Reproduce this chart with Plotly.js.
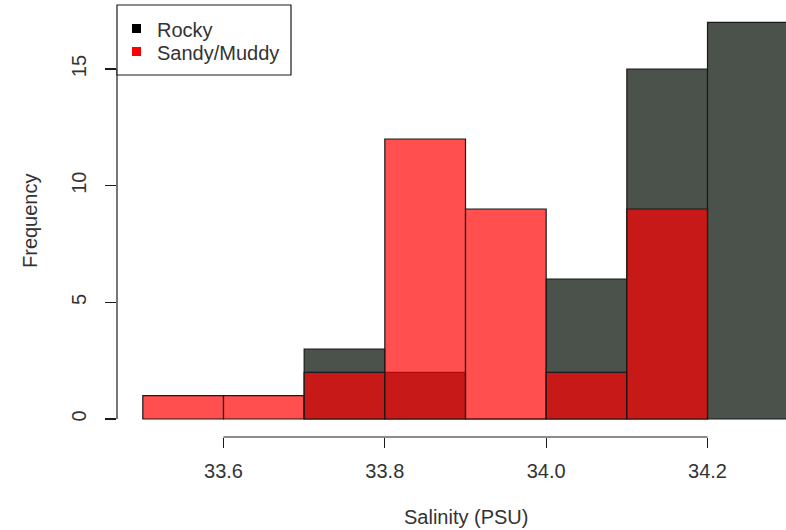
<!DOCTYPE html>
<html>
<head>
<meta charset="utf-8">
<script src="https://cdn.plot.ly/plotly-3.0.1.min.js"></script>
<style>html,body{margin:0;padding:0;background:#fff;overflow:hidden}</style>
</head>
<body>
<div id="chart" style="width:786px;height:530px"></div>
<script>
// Histogram bins (Salinity, PSU) – bin centres, width 0.1
const binCenters = [33.55, 33.65, 33.75, 33.85, 33.95, 34.05, 34.15, 34.25];
const binWidth = 0.1;
const rockyCounts = [null, null, 3, 2, 0, 6, 15, 17];
const sandyCounts = [1, 1, 2, 12, 9, 2, 9, null];
const xTickVals = [33.6, 33.8, 34.0, 34.2];
const xTickText = ["33.6", "33.8", "34.0", "34.2"];
const yTickVals = [0, 5, 10, 15];
const seriesNames = ["Rocky", "Sandy/Muddy"];
const legendColors = ["#000000", "#ff0000"];

const FONT = '"Liberation Sans", Arial, Helvetica, sans-serif';
const TXT = '#333';
const EDGE = '#1a1a1a';
const FS = 20;

const traces = [
  {
    type: 'bar', name: seriesNames[0], x: binCenters, y: rockyCounts, width: binWidth,
    marker: {color: '#4b514b', line: {color: EDGE, width: 1.2}},
    showlegend: false, hoverinfo: 'x+y'
  },
  {
    type: 'bar', name: seriesNames[1], x: binCenters, y: sandyCounts, width: binWidth,
    marker: {color: 'rgba(255,0,0,0.69)', line: {color: EDGE, width: 1.2}},
    showlegend: false, hoverinfo: 'x+y'
  }
];

// Manual R-style legend (box, coloured squares, labels) in pixel offsets from the top-left plot corner
const legendShapes = [
  {type: 'rect', xref: 'paper', yref: 'paper', xsizemode: 'pixel', ysizemode: 'pixel',
   xanchor: 0, yanchor: 1, x0: 0, x1: 174, y0: 0, y1: -70,
   line: {color: EDGE, width: 1.2}, fillcolor: '#fff'}
];
const legendAnn = [];
seriesNames.forEach((name, i) => {
  const top = -19 - i * 23;
  legendShapes.push({type: 'rect', xref: 'paper', yref: 'paper', xsizemode: 'pixel', ysizemode: 'pixel',
    xanchor: 0, yanchor: 1, x0: 15, x1: 24, y0: top, y1: top - 9,
    line: {width: 0}, fillcolor: legendColors[i]});
  legendAnn.push({text: name, xref: 'paper', yref: 'paper', x: 0, y: 1, xshift: 38, yshift: top - 6,
    xanchor: 'left', yanchor: 'middle', showarrow: false,
    font: {family: FONT, size: FS, color: TXT}});
});

const layout = {
  width: 786, height: 530,
  margin: {l: 117, r: 0, t: 5, b: 93, pad: 0},
  paper_bgcolor: '#fff', plot_bgcolor: '#fff',
  font: {family: FONT, color: TXT, size: FS},
  barmode: 'overlay', bargap: 0, showlegend: false,
  xaxis: {
    range: [33.468, 34.2973], tickvals: xTickVals, ticktext: xTickText,
    ticks: 'outside', ticklen: 10, tickwidth: 1.2, tickcolor: EDGE,
    ticklabelstandoff: 6,
    showgrid: false, zeroline: false, showline: false,
    tickfont: {family: FONT, size: FS, color: TXT}
  },
  yaxis: {
    range: [-0.771, 17.743], tickvals: yTickVals,
    ticks: 'outside', ticklen: 11, tickwidth: 1.2, tickcolor: EDGE,
    tickangle: -90, ticklabelstandoff: 11,
    showgrid: false, zeroline: false, showline: false,
    tickfont: {family: FONT, size: FS, color: TXT}
  },
  shapes: [
    {type: 'line', xref: 'x', yref: 'paper', x0: xTickVals[0], x1: xTickVals[xTickVals.length-1], y0: 0, y1: 0,
     line: {color: EDGE, width: 1.2}},
    {type: 'line', xref: 'paper', yref: 'y', x0: 0, x1: 0, y0: yTickVals[0], y1: yTickVals[yTickVals.length-1],
     line: {color: EDGE, width: 1.2}}
  ].concat(legendShapes),
  annotations: [
    {text: 'Salinity (PSU)', xref: 'x', yref: 'paper', x: 33.9, y: 0, yshift: -80,
     xanchor: 'center', yanchor: 'middle', showarrow: false,
     font: {family: FONT, size: FS, color: TXT}},
    {text: 'Frequency', xref: 'paper', yref: 'paper', x: 0, y: 0.5, xshift: -87,
     xanchor: 'center', yanchor: 'middle', textangle: -90, showarrow: false,
     font: {family: FONT, size: FS, color: TXT}}
  ].concat(legendAnn)
};

Plotly.newPlot('chart', traces, layout, {displayModeBar: false, staticPlot: true});
</script>
</body>
</html>
